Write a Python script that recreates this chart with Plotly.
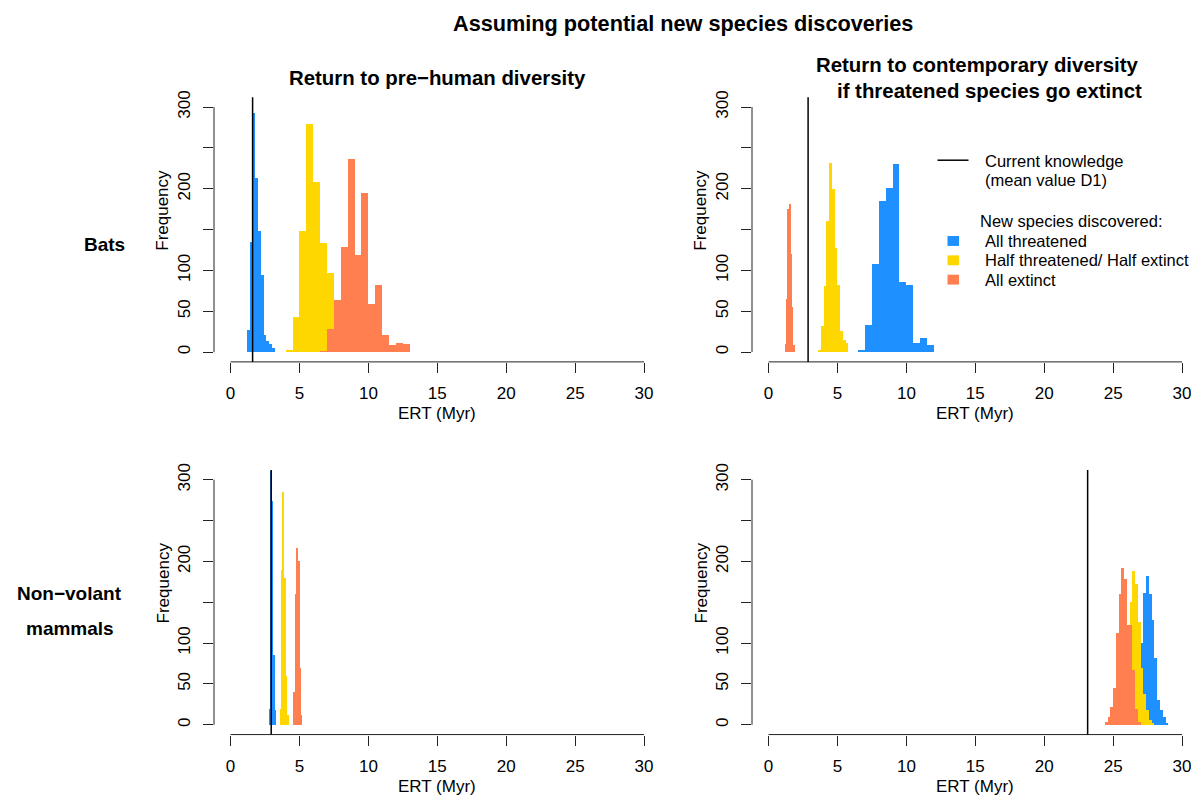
import numpy as np
import plotly.graph_objects as go

# page body has an 8px default margin; compensate so that figure pixels match the reference
OFF = 8
W, H = 1199 - OFF, 799 - OFF

# ---------------- data ----------------
colors = ["#1E90FF", "#FFD700", "#FF7F50"]   # All threatened, Half/Half, All extinct
series_names = ["All threatened", "Half threatened/ Half extinct", "All extinct"]

# Top-left: Bats, return to pre-human diversity
tl_starts = [1.2, 4.0, 6.5]
tl_widths = [0.2, 0.5, 0.5]
tl_blue = [27, 134, 292, 213, 148, 94, 21, 13, 9, 5]
tl_yellow = [2, 43, 148, 279, 208, 133, 96]
tl_orange = [1, 28, 63, 128, 236, 119, 195, 58, 82, 21, 8, 11, 10]

# Top-right: Bats, return to contemporary diversity
tr_starts = [6.5, 3.6, 1.2]
tr_widths = [0.5, 0.2, 0.1]
tr_blue = [2, 33, 108, 185, 200, 230, 85, 82, 11, 17, 8]
tr_yellow = [2, 32, 80, 160, 231, 199, 127, 82, 26, 15, 11]
tr_orange = [10, 65, 175, 181, 120, 55, 8]

# Bottom-left: Non-volant mammals, pre-human diversity
bl_starts = [2.8, 3.6, 4.6]
bl_widths = [0.1, 0.1, 0.1]
bl_blue = [20, 311, 274, 85, 18]
bl_yellow = [20, 190, 285, 180, 60, 12]
bl_orange = [40, 160, 217, 200, 70, 12]

# Bottom-right: Non-volant mammals, contemporary diversity
br_starts = [26.8, 26.2, 24.4]
br_widths = [0.2, 0.2, 0.2]
br_blue = [40, 100, 162, 182, 160, 128, 82, 30, 18, 9, 2]
br_yellow = [150, 188, 172, 126, 70, 38, 18, 6, 2]
br_orange = [4, 10, 22, 45, 112, 160, 192, 178, 122, 122, 67, 20, 3]

# Current knowledge (mean value D1) per panel
current_knowledge = [1.6, 2.87, 2.95, 23.15]

x_ticks = [0, 5, 10, 15, 20, 25, 30]
y_ticks = [0, 50, 100, 150, 200, 250, 300]
y_ticktext = ["0", "50", "100", "", "200", "", "300"]

title = "Assuming potential new species discoveries"
col_titles = ["Return to pre\u2212human diversity",
              ["Return to contemporary diversity", "if threatened species go extinct"]]
row_titles = ["Bats", ["Non\u2212volant", "mammals"]]
x_label = "ERT (Myr)"
y_label = "Frequency"

# ---------------- layout helpers ----------------
FONT = "Liberation Sans, Arial, Helvetica, sans-serif"
AX = "#222222"

def px(x):
    return (x - OFF) / W

def py(y):
    return 1 - (y - OFF) / H

# panel boxes in reference pixels (left, right, top, bottom)
panels = [
    (214, 660.6, 91, 358),
    (752, 1198.6, 91, 358),
    (214, 660.6, 467, 734),
    (752, 1198.6, 467, 734),
]

panel_data = [
    (tl_starts, tl_widths, [tl_blue, tl_yellow, tl_orange]),
    (tr_starts, tr_widths, [tr_blue, tr_yellow, tr_orange]),
    (bl_starts, bl_widths, [bl_blue, bl_yellow, bl_orange]),
    (br_starts, br_widths, [br_blue, br_yellow, br_orange]),
]

fig = go.Figure()
shapes = []
annotations = []
layout_axes = {}

for i, ((l, r, t, b), (starts, widths, counts_list)) in enumerate(zip(panels, panel_data)):
    n = i + 1
    xa = "x" if n == 1 else f"x{n}"
    ya = "y" if n == 1 else f"y{n}"
    xkey = "xaxis" if n == 1 else f"xaxis{n}"
    ykey = "yaxis" if n == 1 else f"yaxis{n}"

    for s, w, cnts, col, name in zip(starts, widths, counts_list, colors, series_names):
        cnts = np.asarray(cnts, dtype=float)
        centers = s + w * (np.arange(len(cnts)) + 0.5)
        fig.add_trace(go.Bar(
            x=centers, y=cnts, width=w, name=name, showlegend=False,
            marker=dict(color=col, line=dict(width=0)),
            xaxis=xa, yaxis=ya, hoverinfo="x+y"))

    layout_axes[xkey] = dict(
        domain=[px(l), min(px(r), 1.0)], range=[-1.2, 31.2], anchor=ya,
        showgrid=False, zeroline=False, showline=False,
        tickmode="array", tickvals=x_ticks, ticks="outside", ticklen=10,
        tickwidth=1, tickcolor=AX, tickfont=dict(family=FONT, size=17, color="black"),
        ticklabelstandoff=6)
    layout_axes[ykey] = dict(
        domain=[py(b), py(t)], range=[-12, 312], anchor=xa,
        showgrid=False, zeroline=False, showline=False,
        tickmode="array", tickvals=y_ticks, ticktext=y_ticktext,
        ticks="outside", ticklen=10, tickwidth=1, tickcolor=AX, tickangle=-90,
        tickfont=dict(family=FONT, size=17, color="black"), ticklabelstandoff=6)

    # R-style axis lines spanning first..last tick
    shapes.append(dict(type="line", xref=xa, yref=f"{ya} domain",
                       x0=x_ticks[0], x1=x_ticks[-1], y0=0, y1=0,
                       line=dict(color=AX, width=1)))
    shapes.append(dict(type="line", xref=f"{xa} domain", yref=ya,
                       x0=0, x1=0, y0=y_ticks[0], y1=y_ticks[-1],
                       line=dict(color=AX, width=1)))
    # current knowledge line
    shapes.append(dict(type="line", xref=xa, yref=f"{ya} domain",
                       x0=current_knowledge[i], x1=current_knowledge[i], y0=0, y1=1,
                       line=dict(color="black", width=1.5)))

    # axis titles
    cx = (l + r) / 2
    annotations.append(dict(text=x_label, x=px(cx), y=py(b + 52), xref="paper", yref="paper",
                            showarrow=False, xanchor="center", yanchor="middle",
                            font=dict(family=FONT, size=17, color="black")))
    annotations.append(dict(text=y_label, x=px(l - 51), y=py((t + b) / 2 - 19),
                            xref="paper", yref="paper", textangle=-90,
                            showarrow=False, xanchor="center", yanchor="middle",
                            font=dict(family=FONT, size=17, color="black")))

BOLD = dict(family=FONT, size=20.4, color="black")
TITLE = dict(family=FONT, size=21.7, color="black")
ROW = dict(family=FONT, size=19, color="black")

def add_text(txt, x, y, font, xanchor="center", angle=0):
    annotations.append(dict(text=txt, x=px(x), y=py(y), xref="paper", yref="paper",
                            showarrow=False, xanchor=xanchor, yanchor="middle",
                            textangle=angle, font=font))

add_text("<b>" + title + "</b>", 682.5, 17, TITLE)
add_text("<b>" + col_titles[0] + "</b>", 437, 72, BOLD)
add_text("<b>" + col_titles[1][0] + "</b>", 977, 58, BOLD)
add_text("<b>" + col_titles[1][1] + "</b>", 989, 85, BOLD)
add_text("<b>" + row_titles[0] + "</b>", 104, 240, ROW)
add_text("<b>" + row_titles[1][0] + "</b>", 70, 592, ROW)
add_text("<b>" + row_titles[1][1] + "</b>", 70, 627, ROW)

# legend (drawn inside the top-right panel)
NORM = dict(family=FONT, size=16.5, color="black")
shapes.append(dict(type="line", xref="paper", yref="paper",
                   x0=px(937.5), x1=px(968.5), y0=py(154.5), y1=py(154.5),
                   line=dict(color="black", width=1.5)))
add_text("Current knowledge", 982.5, 155, NORM, xanchor="left")
add_text("(mean value D1)", 982.5, 174.5, NORM, xanchor="left")
add_text("New species discovered:", 978, 216, NORM, xanchor="left")
for k, (col, name) in enumerate(zip(colors, series_names)):
    yc = 236 + k * 19.5
    shapes.append(dict(type="rect", xref="paper", yref="paper",
                       x0=px(947.5), x1=px(959), y0=py(yc - 5), y1=py(yc + 5),
                       fillcolor=col, line=dict(width=0)))
    add_text(name, 982.5, yc, NORM, xanchor="left")

fig.update_layout(
    width=W, height=H, autosize=False,
    margin=dict(l=0, r=0, t=0, b=0, pad=0),
    paper_bgcolor="white", plot_bgcolor="white",
    barmode="overlay", bargap=0, showlegend=False,
    shapes=shapes, annotations=annotations,
    font=dict(family=FONT, size=17, color="black"),
    **layout_axes)

fig.write_html("out.html")
